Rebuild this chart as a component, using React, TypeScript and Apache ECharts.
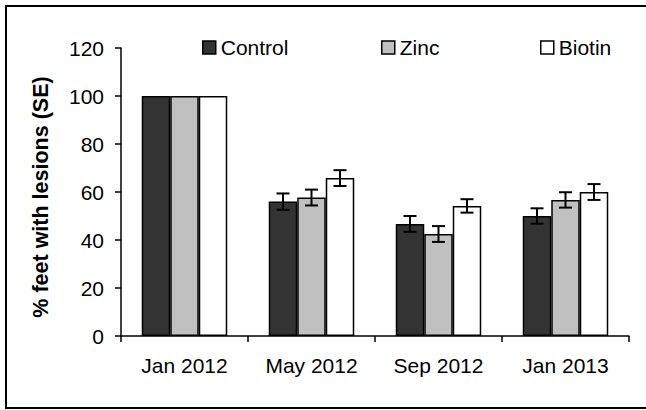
import React, { useEffect, useRef } from "react";
import * as echarts from "echarts";

const categories = ["Jan 2012", "May 2012", "Sep 2012", "Jan 2013"];
const seriesNames = ["Control", "Zinc", "Biotin"];
const control = [100, 56, 46.7, 50];
const zinc = [100, 57.7, 42.5, 56.7];
const biotin = [100, 65.8, 54.2, 60];
const controlSE = [0, 3.4, 3.3, 3.2];
const zincSE = [0, 3.3, 3.3, 3.2];
const biotinSE = [0, 3.3, 2.8, 3.3];
const yTicks = [0, 20, 40, 60, 80, 100, 120];

const FONT = "'Liberation Sans', Arial, sans-serif";
const colors = ["#333333", "#c0c0c0", "#ffffff"];
const BAR_W = 28.5;

export default function App() {
  const ref = useRef<HTMLDivElement>(null);
  useEffect(() => {
    if (!ref.current) return;
    const chart = echarts.init(ref.current, null, { renderer: "svg" });
    const values = [control, zinc, biotin];
    const errs = [controlSE, zincSE, biotinSE];

    const barSeries = seriesNames.map((name, i) => ({
      name,
      type: "bar",
      data: values[i],
      barWidth: BAR_W,
      barGap: "0%",
      itemStyle: { color: colors[i], borderColor: "#000", borderWidth: 1.5 },
      z: 2,
    }));

    const errSeries = seriesNames.map((name, i) => ({
      name: name + " SE",
      type: "custom",
      data: values[i].map((v, k) => [k, v, errs[i][k]]),
      encode: { x: 0, y: 1 },
      z: 5,
      renderItem: (params: any, api: any) => {
        const k = api.value(0);
        const v = api.value(1);
        const e = api.value(2);
        if (!e) return null;
        const off = (i - 1) * BAR_W;
        const top = api.coord([k, v + e]);
        const bot = api.coord([k, v - e]);
        const cx = top[0] + off;
        const hw = 6.5;
        const style = { stroke: "#000", lineWidth: 2 };
        return {
          type: "group",
          children: [
            { type: "line", shape: { x1: cx, y1: top[1], x2: cx, y2: bot[1] }, style },
            { type: "line", shape: { x1: cx - hw, y1: top[1], x2: cx + hw, y2: top[1] }, style },
            { type: "line", shape: { x1: cx - hw, y1: bot[1], x2: cx + hw, y2: bot[1] }, style },
          ],
        };
      },
    }));

    const legendLefts = [202, 381, 540];
    const legends = seriesNames.map((name, i) => ({
      data: [name],
      left: legendLefts[i],
      top: 37,
      padding: 0,
      itemWidth: 13,
      itemHeight: 13,
      itemGap: 8,
      icon: "rect",
      itemStyle: { color: colors[i], borderColor: "#000", borderWidth: 1.5 },
      textStyle: { fontFamily: FONT, fontSize: 21, color: "#000", padding: [0, 0, 0, 0] },
      selectedMode: false,
    }));

    chart.setOption({
      animation: false,
      backgroundColor: "#fff",
      legend: legends,
      grid: { left: 121, right: 17, top: 48, bottom: 74, containLabel: false },
      xAxis: {
        type: "category",
        data: categories,
        boundaryGap: true,
        axisLine: { lineStyle: { color: "#000", width: 1.5 } },
        axisTick: { show: true, length: 6, lineStyle: { color: "#000", width: 1.5 } },
        axisLabel: { fontFamily: FONT, fontSize: 21, color: "#000", margin: 19 },
      },
      yAxis: {
        type: "value",
        min: yTicks[0],
        max: yTicks[yTicks.length - 1],
        interval: 20,
        splitLine: { show: false },
        axisLine: { show: true, lineStyle: { color: "#000", width: 1.5 } },
        axisTick: { show: true, length: 6, lineStyle: { color: "#000", width: 1.5 } },
        axisLabel: { fontFamily: FONT, fontSize: 21, color: "#000", margin: 17 },
      },
      graphic: [
        {
          type: "rect",
          shape: { x: 6, y: 6, width: 660, height: 402 },
          style: { fill: "none", stroke: "#000", lineWidth: 2 },
          silent: true,
        },
        {
          type: "text",
          x: 41,
          y: 197,
          rotation: Math.PI / 2,
          style: {
            text: "% feet with lesions (SE)",
            fontFamily: FONT,
            fontSize: 21.5,
            fontWeight: "bold",
            fill: "#000",
            align: "center",
            verticalAlign: "middle",
          },
        },
      ],
      series: [...barSeries, ...errSeries],
    });
    return () => chart.dispose();
  }, []);
  return (
    <div
      ref={ref}
      style={{ position: "fixed", left: 0, top: 0, width: 646, height: 410, background: "#fff" }}
    />
  );
}
